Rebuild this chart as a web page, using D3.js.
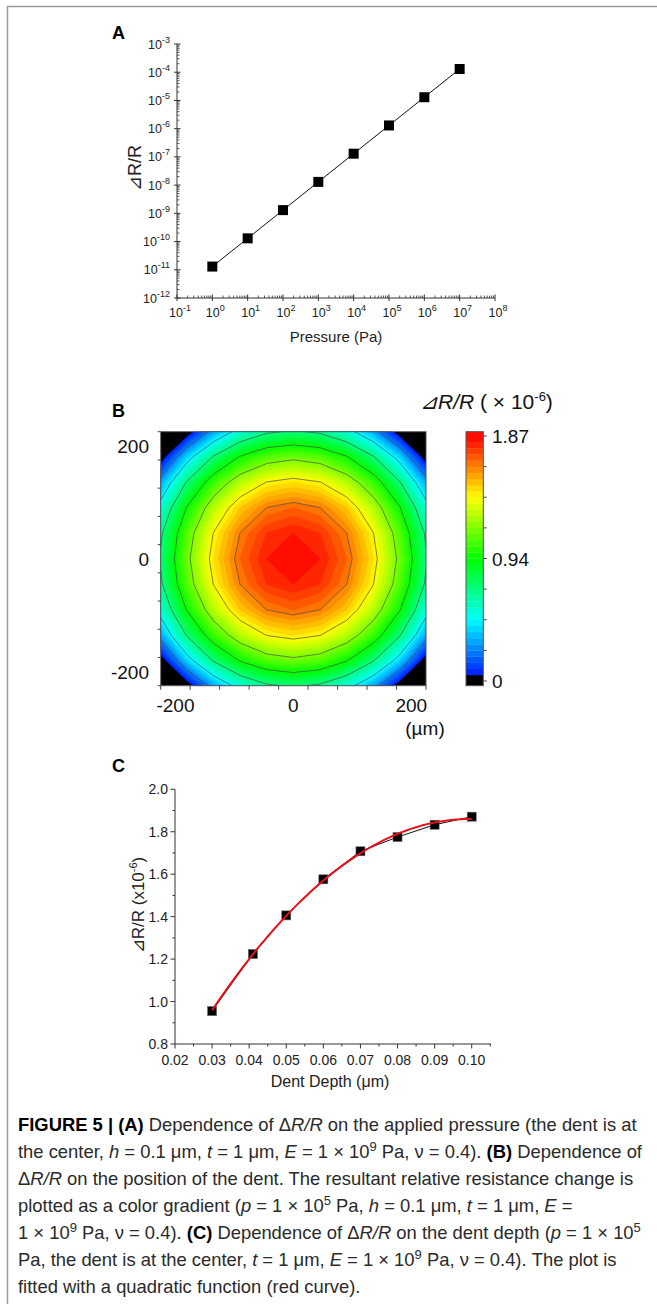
<!DOCTYPE html>
<html><head><meta charset="utf-8">
<script src="https://cdn.jsdelivr.net/npm/d3@7"></script>
<style>
body{margin:0;background:#fff;}
svg{display:block;}
text{font-family:"Liberation Sans",Arial,Helvetica,sans-serif;white-space:pre;}
</style></head><body>
<svg id="fig" width="657" height="1304"></svg>
<script>
// ---------- Panel A data ----------
const pressures = [1e0, 1e1, 1e2, 1e3, 1e4, 1e5, 1e6, 1e7];
const resistanceChangeA = [1.3e-11, 1.3e-10, 1.3e-9, 1.3e-8, 1.3e-7, 1.3e-6, 1.3e-5, 1.3e-4];
const pressureTickExponents = [-1, 0, 1, 2, 3, 4, 5, 6, 7, 8];
const ratioTickExponents = [-12, -11, -10, -9, -8, -7, -6, -5, -4, -3];

// ---------- Panel B data (ΔR/R ×10^-6 on a grid, rows top y=225 → bottom y=-225) ----------
const gridPositions = [-225, -180, -135, -90, -45, 0, 45, 90, 135, 180, 225];
const mapRow225 = [-0.43, -0.03, 0.307, 0.537, 0.675, 0.721, 0.675, 0.537, 0.307, -0.03, -0.43];
const mapRow180 = [-0.03, 0.399, 0.721, 0.951, 1.088, 1.134, 1.088, 0.951, 0.721, 0.399, -0.03];
const mapRow135 = [0.307, 0.721, 1.042, 1.272, 1.410, 1.456, 1.410, 1.272, 1.042, 0.721, 0.307];
const mapRow90  = [0.537, 0.951, 1.272, 1.502, 1.640, 1.686, 1.640, 1.502, 1.272, 0.951, 0.537];
const mapRow45  = [0.675, 1.088, 1.410, 1.640, 1.778, 1.824, 1.778, 1.640, 1.410, 1.088, 0.675];
const mapRow0   = [0.721, 1.134, 1.456, 1.686, 1.824, 1.870, 1.824, 1.686, 1.456, 1.134, 0.721];
const mapValues = [mapRow225, mapRow180, mapRow135, mapRow90, mapRow45, mapRow0,
                   mapRow45, mapRow90, mapRow135, mapRow180, mapRow225];
const mapTickValues = [-225, -175, -125, -75, -25, 25, 75, 125, 175, 225];
const mapLabelValues = [-200, 0, 200];
const colorMax = 1.87;
const colorbarTickValues = [0, 0.23375, 0.4675, 0.70125, 0.935, 1.16875, 1.4025, 1.63625, 1.87];
const colorbarLabelValues = [0, 0.935, 1.87];
const colorbarLabels = ["0", "0.94", "1.87"];
const contourLineLevels = [0.23375, 0.4675, 0.70125, 0.935, 1.16875, 1.4025, 1.63625];

// ---------- Panel C data ----------
const dentDepths = [0.030, 0.041, 0.050, 0.060, 0.070, 0.080, 0.090, 0.100];
const resistanceChangeC = [0.955, 1.224, 1.406, 1.576, 1.708, 1.775, 1.833, 1.871];
const depthTicks = [0.02, 0.03, 0.04, 0.05, 0.06, 0.07, 0.08, 0.09, 0.10];
const depthMinorTicks = [0.025, 0.035, 0.045, 0.055, 0.065, 0.075, 0.085, 0.095, 0.105];
const ratioTicksC = [0.8, 1.0, 1.2, 1.4, 1.6, 1.8, 2.0];
const ratioMinorTicksC = [0.9, 1.1, 1.3, 1.5, 1.7, 1.9];

const svg = d3.select("#fig");
const axisColor = "#333";

// Outer frame (top and left visible)
svg.append("path").attr("d", "M7.5,1304 V6.5 H657").attr("fill", "none")
  .attr("stroke", "#9a9a9a").attr("stroke-width", 1.5);

// Panel letters
[["A", 39], ["B", 417], ["C", 772]].forEach(([l, y]) => {
  svg.append("text").attr("x", 112).attr("y", y).attr("font-size", 18)
    .attr("font-weight", "bold").text(l);
});

// ================= Panel A =================
const xA = d3.scaleLog().domain([1e-1, 1e8]).range([177, 495]);
const yA = d3.scaleLog().domain([1e-12, 1e-3]).range([298, 44]);
const gA = svg.append("g");
gA.append("line").attr("x1", xA(1e-1)).attr("x2", xA(1e8)).attr("y1", yA(1e-12)).attr("y2", yA(1e-12))
  .attr("stroke", axisColor).attr("stroke-width", 1);
gA.append("line").attr("x1", xA(1e-1)).attr("x2", xA(1e-1)).attr("y1", yA(1e-12)).attr("y2", yA(1e-3))
  .attr("stroke", axisColor).attr("stroke-width", 1);
// minor ticks
pressureTickExponents.slice(0, -1).forEach(e => {
  for (let m = 2; m <= 9; m++) {
    const x = xA(m * Math.pow(10, e));
    gA.append("line").attr("x1", x).attr("x2", x).attr("y1", yA(1e-12)).attr("y2", yA(1e-12) - 2.5)
      .attr("stroke", axisColor).attr("stroke-width", 0.8);
  }
});
ratioTickExponents.slice(0, -1).forEach(e => {
  for (let m = 2; m <= 9; m++) {
    const y = yA(m * Math.pow(10, e));
    gA.append("line").attr("x1", xA(1e-1)).attr("x2", xA(1e-1) + 2.5).attr("y1", y).attr("y2", y)
      .attr("stroke", axisColor).attr("stroke-width", 0.8);
  }
});
// major ticks + labels
pressureTickExponents.forEach(e => {
  const x = xA(Math.pow(10, e));
  gA.append("line").attr("x1", x).attr("x2", x).attr("y1", yA(1e-12) - 3.5).attr("y2", yA(1e-12) + 3)
    .attr("stroke", axisColor).attr("stroke-width", 1);
  const t = gA.append("text").attr("x", x + 3).attr("y", 317).attr("font-size", 12.5)
    .attr("text-anchor", "middle").attr("fill", "#222");
  t.append("tspan").text("10");
  t.append("tspan").attr("dy", -6).attr("font-size", 9).text(String(e));
});
ratioTickExponents.forEach(e => {
  const y = yA(Math.pow(10, e));
  gA.append("line").attr("x1", xA(1e-1) - 3).attr("x2", xA(1e-1) + 3.5).attr("y1", y).attr("y2", y)
    .attr("stroke", axisColor).attr("stroke-width", 1);
  const t = gA.append("text").attr("x", 170).attr("y", y + 4.5).attr("font-size", 12.5)
    .attr("text-anchor", "end").attr("fill", "#222");
  t.append("tspan").text("10");
  t.append("tspan").attr("dy", -6).attr("font-size", 9).text(String(e));
});
gA.append("text").attr("x", 336).attr("y", 342).attr("font-size", 15).attr("text-anchor", "middle")
  .attr("fill", "#222").text("Pressure (Pa)");
gA.append("text").attr("transform", "translate(141,168) rotate(-90)").attr("font-size", 18)
  .attr("text-anchor", "middle").attr("fill", "#222").text("⊿R/R");
const dataA = pressures.map((p, i) => [p, resistanceChangeA[i]]);
gA.append("path").datum(dataA).attr("fill", "none").attr("stroke", "#111").attr("stroke-width", 1)
  .attr("d", d3.line().x(d => xA(d[0])).y(d => yA(d[1])));
gA.selectAll("rect.m").data(dataA).enter().append("rect")
  .attr("x", d => xA(d[0]) - 5).attr("y", d => yA(d[1]) - 5)
  .attr("width", 10).attr("height", 10).attr("fill", "#000");

// ================= Panel B =================
const xB = d3.scaleLinear().domain([-225, 225]).range([160.7, 426]);
const yB = d3.scaleLinear().domain([-225, 225]).range([685.7, 431.7]);
const gB = svg.append("g");
svg.append("defs").append("clipPath").attr("id", "clipB").append("rect")
  .attr("x", xB(-225)).attr("y", yB(225)).attr("width", xB(225) - xB(-225)).attr("height", yB(-225) - yB(225));
const nGrid = gridPositions.length;
const gStep = gridPositions[1] - gridPositions[0];
const proj = d3.geoTransform({
  point(x, y) {
    this.stream.point(xB(gridPositions[0] + (x - 0.5) * gStep), yB(gridPositions[nGrid - 1] - (y - 0.5) * gStep));
  }
});
const pathB = d3.geoPath(proj);
const flat = mapValues.flat();
const nBands = 40;
const bandW = colorMax / nBands;
const bandThresholds = d3.range(1, nBands).map(k => k * bandW);
const bandColor = v => d3.hsl(Math.max(0, 240 * (1 - v / colorMax)), 1, 0.5).toString();
const clipG = gB.append("g").attr("clip-path", "url(#clipB)");
clipG.append("rect").attr("x", xB(-225)).attr("y", yB(225)).attr("width", xB(225) - xB(-225))
  .attr("height", yB(-225) - yB(225)).attr("fill", "#000");
const fills = d3.contours().size([nGrid, nGrid]).smooth(true).thresholds(bandThresholds)(flat);
clipG.selectAll("path.band").data(fills).enter().append("path")
  .attr("d", pathB).attr("fill", d => bandColor(d.value + bandW / 2)).attr("stroke", d => bandColor(d.value + bandW / 2))
  .attr("stroke-width", 0.3);
const lines = d3.contours().size([nGrid, nGrid]).smooth(true).thresholds(contourLineLevels)(flat);
clipG.selectAll("path.cl").data(lines).enter().append("path")
  .attr("d", pathB).attr("fill", "none").attr("stroke", "#4a4a4a").attr("stroke-width", 0.8).attr("stroke-opacity", 0.85);
gB.append("rect").attr("x", xB(-225)).attr("y", yB(225)).attr("width", xB(225) - xB(-225))
  .attr("height", yB(-225) - yB(225)).attr("fill", "none").attr("stroke", "#555").attr("stroke-width", 1);
mapTickValues.forEach(v => {
  gB.append("line").attr("x1", xB(v)).attr("x2", xB(v)).attr("y1", yB(-225)).attr("y2", yB(-225) + 4)
    .attr("stroke", "#444");
  gB.append("line").attr("x1", xB(-225) - 3).attr("x2", xB(-225)).attr("y1", yB(v)).attr("y2", yB(v))
    .attr("stroke", "#444");
});
mapLabelValues.forEach(v => {
  const s = v === 0 ? "0" : (v < 0 ? "-" + Math.abs(v) : String(v));
  gB.append("text").attr("x", xB(v)).attr("y", 712).attr("font-size", 19).attr("text-anchor", "middle")
    .attr("fill", "#111").text(s);
  gB.append("text").attr("x", 149).attr("y", yB(v) + 7).attr("font-size", 19).attr("text-anchor", "end")
    .attr("fill", "#111").text(s);
});
gB.append("text").attr("x", 425).attr("y", 735).attr("font-size", 19).attr("text-anchor", "middle")
  .attr("fill", "#111").text("(µm)");

// Colorbar
const cbY = d3.scaleLinear().domain([0, colorMax]).range([681, 436]);
const cbX0 = 466, cbX1 = 483.3, cbTop = 431.7, cbBot = 685.7;
gB.append("rect").attr("x", cbX0).attr("y", cbY(bandW)).attr("width", cbX1 - cbX0).attr("height", cbBot - cbY(bandW)).attr("fill", "#000");
d3.range(1, nBands).forEach(k => {
  const lo = k * bandW, hi = (k === nBands - 1) ? null : (k + 1) * bandW;
  const yTop = hi === null ? cbTop : cbY(hi);
  gB.append("rect").attr("x", cbX0).attr("y", yTop).attr("width", cbX1 - cbX0)
    .attr("height", cbY(lo) - yTop + 0.3).attr("fill", bandColor(lo + bandW / 2));
});
gB.append("rect").attr("x", cbX0).attr("y", cbTop).attr("width", cbX1 - cbX0).attr("height", cbBot - cbTop)
  .attr("fill", "none").attr("stroke", "#555").attr("stroke-width", 1);
colorbarTickValues.forEach(v => {
  gB.append("line").attr("x1", cbX1).attr("x2", cbX1 + 3.5).attr("y1", cbY(v)).attr("y2", cbY(v)).attr("stroke", "#444");
});
colorbarLabelValues.forEach((v, i) => {
  gB.append("text").attr("x", 492).attr("y", cbY(v) + 7).attr("font-size", 19).attr("fill", "#111").text(colorbarLabels[i]);
});
const cbt = gB.append("text").attr("x", 420).attr("y", 409).attr("font-size", 21).attr("fill", "#111");
cbt.append("tspan").attr("font-style", "italic").text("⊿R/R");
cbt.append("tspan").text(" ( × 10");
cbt.append("tspan").attr("dy", -8).attr("font-size", 13).text("-6");
cbt.append("tspan").attr("dy", 8).text(")");

// ================= Panel C =================
const xC = d3.scaleLinear().domain([0.02, 0.1052]).range([175, 491]);
const yC = d3.scaleLinear().domain([0.8, 2.0]).range([1044, 789.3]);
const gC = svg.append("g");
gC.append("line").attr("x1", xC(0.02)).attr("x2", xC(0.1052)).attr("y1", yC(0.8)).attr("y2", yC(0.8)).attr("stroke", axisColor);
gC.append("line").attr("x1", xC(0.02)).attr("x2", xC(0.02)).attr("y1", yC(0.8)).attr("y2", yC(2.0)).attr("stroke", axisColor);
depthTicks.forEach(v => {
  gC.append("line").attr("x1", xC(v)).attr("x2", xC(v)).attr("y1", yC(0.8)).attr("y2", yC(0.8) + 4.5).attr("stroke", axisColor);
  gC.append("text").attr("x", xC(v)).attr("y", 1065).attr("font-size", 14).attr("text-anchor", "middle")
    .attr("fill", "#222").text(v.toFixed(2));
});
depthMinorTicks.forEach(v => {
  gC.append("line").attr("x1", xC(v)).attr("x2", xC(v)).attr("y1", yC(0.8)).attr("y2", yC(0.8) + 2.5).attr("stroke", axisColor);
});
ratioTicksC.forEach(v => {
  gC.append("line").attr("x1", xC(0.02) - 4.5).attr("x2", xC(0.02)).attr("y1", yC(v)).attr("y2", yC(v)).attr("stroke", axisColor);
  gC.append("text").attr("x", 168).attr("y", yC(v) + 5).attr("font-size", 14).attr("text-anchor", "end")
    .attr("fill", "#222").text(v.toFixed(1));
});
ratioMinorTicksC.forEach(v => {
  gC.append("line").attr("x1", xC(0.02) - 2.5).attr("x2", xC(0.02)).attr("y1", yC(v)).attr("y2", yC(v)).attr("stroke", axisColor);
});
gC.append("text").attr("x", 330).attr("y", 1087).attr("font-size", 16).attr("text-anchor", "middle")
  .attr("fill", "#222").text("Dent Depth (μm)");
const ylC = gC.append("text").attr("transform", "translate(144,905) rotate(-90)").attr("font-size", 17)
  .attr("text-anchor", "middle").attr("fill", "#222");
ylC.append("tspan").text("⊿R/R (x10");
ylC.append("tspan").attr("dy", -7).attr("font-size", 11).text("-6");
ylC.append("tspan").attr("dy", 7).text(")");

const dataC = dentDepths.map((d, i) => [d, resistanceChangeC[i]]);
gC.append("path").datum(dataC).attr("fill", "none").attr("stroke", "#111").attr("stroke-width", 1)
  .attr("d", d3.line().x(d => xC(d[0])).y(d => yC(d[1])));
// quadratic least-squares fit of the data (red curve)
function quadFit(xs, ys) {
  let S = [0, 0, 0, 0, 0], T = [0, 0, 0];
  xs.forEach((x, i) => {
    for (let k = 0; k < 5; k++) S[k] += Math.pow(x, k);
    for (let k = 0; k < 3; k++) T[k] += ys[i] * Math.pow(x, k);
  });
  const A = [[S[0], S[1], S[2], T[0]], [S[1], S[2], S[3], T[1]], [S[2], S[3], S[4], T[2]]];
  for (let c = 0; c < 3; c++) {
    for (let r = c + 1; r < 3; r++) {
      const f = A[r][c] / A[c][c];
      for (let k = c; k < 4; k++) A[r][k] -= f * A[c][k];
    }
  }
  const b = [0, 0, 0];
  for (let r = 2; r >= 0; r--) {
    let s = A[r][3];
    for (let k = r + 1; k < 3; k++) s -= A[r][k] * b[k];
    b[r] = s / A[r][r];
  }
  return b;
}
const coef = quadFit(dentDepths, resistanceChangeC);
const fitX = d3.range(dentDepths[0], dentDepths[dentDepths.length - 1] + 1e-9, 0.001);
const fitPts = fitX.map(x => [x, coef[0] + coef[1] * x + coef[2] * x * x]);
gC.selectAll("rect.mc").data(dataC).enter().append("rect")
  .attr("x", d => xC(d[0]) - 4.5).attr("y", d => yC(d[1]) - 4.5).attr("width", 9).attr("height", 9)
  .attr("fill", "#000").attr("stroke", "#666").attr("stroke-width", 0.6);
gC.append("path").datum(fitPts)
  .attr("fill", "none").attr("stroke", "#e8101a").attr("stroke-width", 2)
  .attr("d", d3.line().x(d => xC(d[0])).y(d => yC(d[1])));

// ================= Caption =================
const captionLines = [
  [["FIGURE 5 | (A)", "b"], [" Dependence of Δ", "n"], ["R/R", "i"], [" on the applied pressure (the dent is at", "n"]],
  [["the center, ", "n"], ["h", "i"], [" = 0.1 μm, ", "n"], ["t", "i"], [" = 1 μm, ", "n"], ["E", "i"], [" = 1 × 10", "n"], ["9", "sup"], [" Pa, ν = 0.4). ", "n"], ["(B)", "b"], [" Dependence of", "n"]],
  [["Δ", "n"], ["R/R", "i"], [" on the position of the dent. The resultant relative resistance change is", "n"]],
  [["plotted as a color gradient (", "n"], ["p", "i"], [" = 1 × 10", "n"], ["5", "sup"], [" Pa, ", "n"], ["h", "i"], [" = 0.1 μm, ", "n"], ["t", "i"], [" = 1 μm, ", "n"], ["E", "i"], [" =", "n"]],
  [["1 × 10", "n"], ["9", "sup"], [" Pa, ν = 0.4). ", "n"], ["(C)", "b"], [" Dependence of Δ", "n"], ["R/R", "i"], [" on the dent depth (", "n"], ["p", "i"], [" = 1 × 10", "n"], ["5", "sup"]],
  [["Pa, the dent is at the center, ", "n"], ["t", "i"], [" = 1 μm, ", "n"], ["E", "i"], [" = 1 × 10", "n"], ["9", "sup"], [" Pa, ν = 0.4). The plot is", "n"]],
  [["fitted with a quadratic function (red curve).", "n"]]
];
const captionBaselines = [1131, 1158, 1185, 1212, 1239, 1266, 1293];
captionLines.forEach((segs, i) => {
  const t = svg.append("text").attr("x", 18).attr("y", captionBaselines[i]).attr("font-size", 18.4).attr("fill", "#2a2a2a");
  let up = false;
  segs.forEach(([s, st]) => {
    const ts = t.append("tspan").text(s);
    if (st === "b") ts.attr("font-weight", "bold").attr("fill", "#000");
    if (st === "i") ts.attr("font-style", "italic");
    if (st === "sup") { ts.attr("font-size", 13).attr("dy", -7); up = true; }
    else if (up) { ts.attr("dy", 7); up = false; }
  });
});
</script>
</body></html>
